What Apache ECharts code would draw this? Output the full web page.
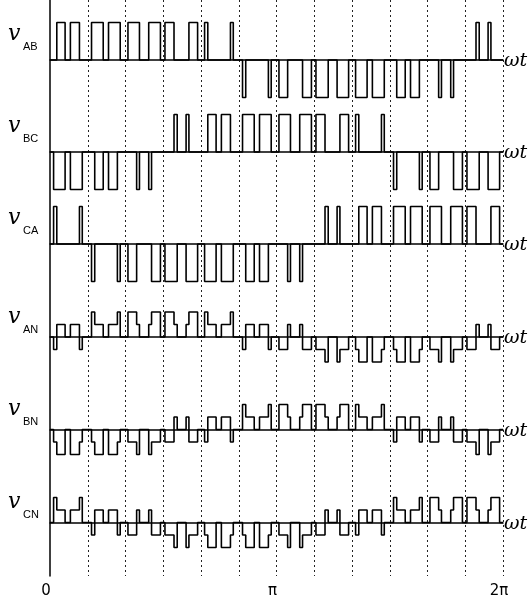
<!DOCTYPE html>
<html>
<head>
<meta charset="utf-8">
<script src="https://cdn.jsdelivr.net/npm/echarts@6/dist/echarts.min.js"></script>
<style>
  html, body { margin: 0; padding: 0; background: #fff; }
  #chart { width: 532px; height: 602px; }
</style>
</head>
<body>
<div id="chart"></div>
<script>
// switching instants, in units of pi/6 (0 .. 12 = 0 .. 2pi)
const t = [
  0, 0.095, 0.18, 0.40, 0.54, 0.78, 0.855,
  1.10, 1.185, 1.41, 1.55, 1.785, 1.86,
  2.065, 2.295, 2.37, 2.615, 2.69, 2.925,
  3.045, 3.285, 3.37, 3.605, 3.68, 3.91,
  4.095, 4.18, 4.40, 4.54, 4.78, 4.855,
  5.10, 5.185, 5.41, 5.55, 5.785, 5.86,
  6.065, 6.295, 6.37, 6.615, 6.69, 6.925,
  7.045, 7.285, 7.37, 7.605, 7.68, 7.91,
  8.095, 8.18, 8.40, 8.54, 8.78, 8.855,
  9.10, 9.185, 9.41, 9.55, 9.785, 9.86,
  10.065, 10.295, 10.37, 10.615, 10.69, 10.925,
  11.045, 11.285, 11.37, 11.605, 11.68, 11.91,
  12
]

// line voltages (units of Vdc), level held from t[i] to t[i+1]
const vAB = [
  0, 0, 1, 0, 1, 0, 0,
  1, 1, 0, 1, 1, 0,
  1, 1, 0, 1, 1, 0,
  1, 0, 0, 0, 1, 0,
  1, 0, 0, 0, 1, 0,
  -1, 0, 0, 0, -1, 0,
  -1, 0, 0, 0, -1, 0,
  -1, -1, 0, -1, -1, 0,
  -1, -1, 0, -1, -1, 0,
  0, -1, 0, -1, 0, 0,
  0, -1, 0, -1, 0, 0,
  0, 1, 0, 1, 0, 0,
  0
]
const vBC = [
  0, -1, -1, 0, -1, -1, 0,
  0, -1, 0, -1, 0, 0,
  0, -1, 0, -1, 0, 0,
  0, 1, 0, 1, 0, 0,
  0, 1, 0, 1, 0, 0,
  1, 1, 0, 1, 1, 0,
  1, 1, 0, 1, 1, 0,
  1, 0, 0, 0, 1, 0,
  1, 0, 0, 0, 1, 0,
  -1, 0, 0, 0, -1, 0,
  -1, 0, 0, 0, -1, 0,
  -1, -1, 0, -1, -1, 0,
  0
]
const vCA = [
  0, 1, 0, 0, 0, 1, 0,
  -1, 0, 0, 0, -1, 0,
  -1, 0, 0, 0, -1, 0,
  -1, -1, 0, -1, -1, 0,
  -1, -1, 0, -1, -1, 0,
  0, -1, 0, -1, 0, 0,
  0, -1, 0, -1, 0, 0,
  0, 1, 0, 1, 0, 0,
  0, 1, 0, 1, 0, 0,
  1, 1, 0, 1, 1, 0,
  1, 1, 0, 1, 1, 0,
  1, 0, 0, 0, 1, 0,
  0
]

// phase voltages (units of Vdc/3)
const vAN = [
  0, -1, 1, 0, 1, -1, 0,
  2, 1, 0, 1, 2, 0,
  2, 1, 0, 1, 2, 0,
  2, 1, 0, 1, 2, 0,
  2, 1, 0, 1, 2, 0,
  -1, 1, 0, 1, -1, 0,
  -1, 1, 0, 1, -1, 0,
  -1, -2, 0, -2, -1, 0,
  -1, -2, 0, -2, -1, 0,
  -1, -2, 0, -2, -1, 0,
  -1, -2, 0, -2, -1, 0,
  -1, 1, 0, 1, -1, 0,
  0
]
const vBN = [
  0, -1, -2, 0, -2, -1, 0,
  -1, -2, 0, -2, -1, 0,
  -1, -2, 0, -2, -1, 0,
  -1, 1, 0, 1, -1, 0,
  -1, 1, 0, 1, -1, 0,
  2, 1, 0, 1, 2, 0,
  2, 1, 0, 1, 2, 0,
  2, 1, 0, 1, 2, 0,
  2, 1, 0, 1, 2, 0,
  -1, 1, 0, 1, -1, 0,
  -1, 1, 0, 1, -1, 0,
  -1, -2, 0, -2, -1, 0,
  0
]
const vCN = [
  0, 2, 1, 0, 1, 2, 0,
  -1, 1, 0, 1, -1, 0,
  -1, 1, 0, 1, -1, 0,
  -1, -2, 0, -2, -1, 0,
  -1, -2, 0, -2, -1, 0,
  -1, -2, 0, -2, -1, 0,
  -1, -2, 0, -2, -1, 0,
  -1, 1, 0, 1, -1, 0,
  -1, 1, 0, 1, -1, 0,
  2, 1, 0, 1, 2, 0,
  2, 1, 0, 1, 2, 0,
  2, 1, 0, 1, 2, 0,
  0
]

const names = [['v', 'AB'], ['v', 'BC'], ['v', 'CA'], ['v', 'AN'], ['v', 'BN'], ['v', 'CN']]
const waves = [vAB, vBC, vCA, vAN, vBN, vCN]
const tickLabels = { 0: '0', 6: 'π', 12: '2π' }

var myChart = echarts.init(document.getElementById('chart'))

const baseY = [60, 152, 244, 337, 429.5, 522.5]
const half = 40
const grids = []
const xAxes = []
const yAxes = []
const series = []
const graphics = []

waves.forEach((w, k) => {
  grids.push({ left: 50, right: 29, top: baseY[k] - half, height: half * 2 })
  xAxes.push({
    gridIndex: k, type: 'value', min: 0, max: 12,
    axisLine: { onZero: true, lineStyle: { color: '#000', width: 1.5 } },
    axisTick: { show: false }, axisLabel: { show: false }, splitLine: { show: false }
  })
  // line voltages: 37.5 px per Vdc, phase voltages: 12.5 px per Vdc/3
  const m = k < 3 ? half / 37.5 : half / 12.5
  yAxes.push({ gridIndex: k, type: 'value', min: -m, max: m, show: false })
  series.push({
    type: 'line', xAxisIndex: k, yAxisIndex: k, step: 'end', symbol: 'none',
    lineStyle: { color: '#000', width: 1.6 },
    data: t.map((x, i) => [x, w[i]])
  })
  // phase labels sit a little closer to their axis
  const dy = k < 3 ? 0 : 6
  graphics.push({
    type: 'text', left: 8, top: baseY[k] - 37 + dy,
    style: { text: names[k][0], font: 'italic 22px "DejaVu Serif"', fill: '#000' }
  })
  graphics.push({
    type: 'text', left: 23, top: baseY[k] - 19 + dy,
    style: { text: names[k][1], font: '11px "Liberation Sans"', fill: '#000' }
  })
  graphics.push({
    type: 'text', left: 504, top: baseY[k] - 8,
    style: { text: 'ωt', font: 'italic 19px "DejaVu Serif"', fill: '#000' }
  })
})

// background grid with dotted pi/6 lines and the 0 .. 2pi labels
grids.push({ left: 50, right: 29, top: 0, bottom: 26 })
xAxes.push({
  gridIndex: 6, type: 'value', min: 0, max: 12, interval: 1,
  axisLine: { show: false }, axisTick: { show: false },
  axisLabel: {
    margin: 8, fontSize: 15, fontFamily: 'DejaVu Sans', color: '#000',
    padding: [0, 8, 0, 0],
    formatter: v => tickLabels[v] || ''
  },
  splitLine: { show: true, showMinLine: false, lineStyle: { color: '#222', type: [2, 3], width: 1 } }
})
yAxes.push({
  gridIndex: 6, type: 'value', min: 0, max: 1,
  axisLine: { show: true, lineStyle: { color: '#000', width: 1.5 } },
  axisTick: { show: false }, axisLabel: { show: false }, splitLine: { show: false }
})

myChart.setOption({
  animation: false,
  grid: grids,
  xAxis: xAxes,
  yAxis: yAxes,
  series: series,
  graphic: graphics
})
</script>
</body>
</html>
